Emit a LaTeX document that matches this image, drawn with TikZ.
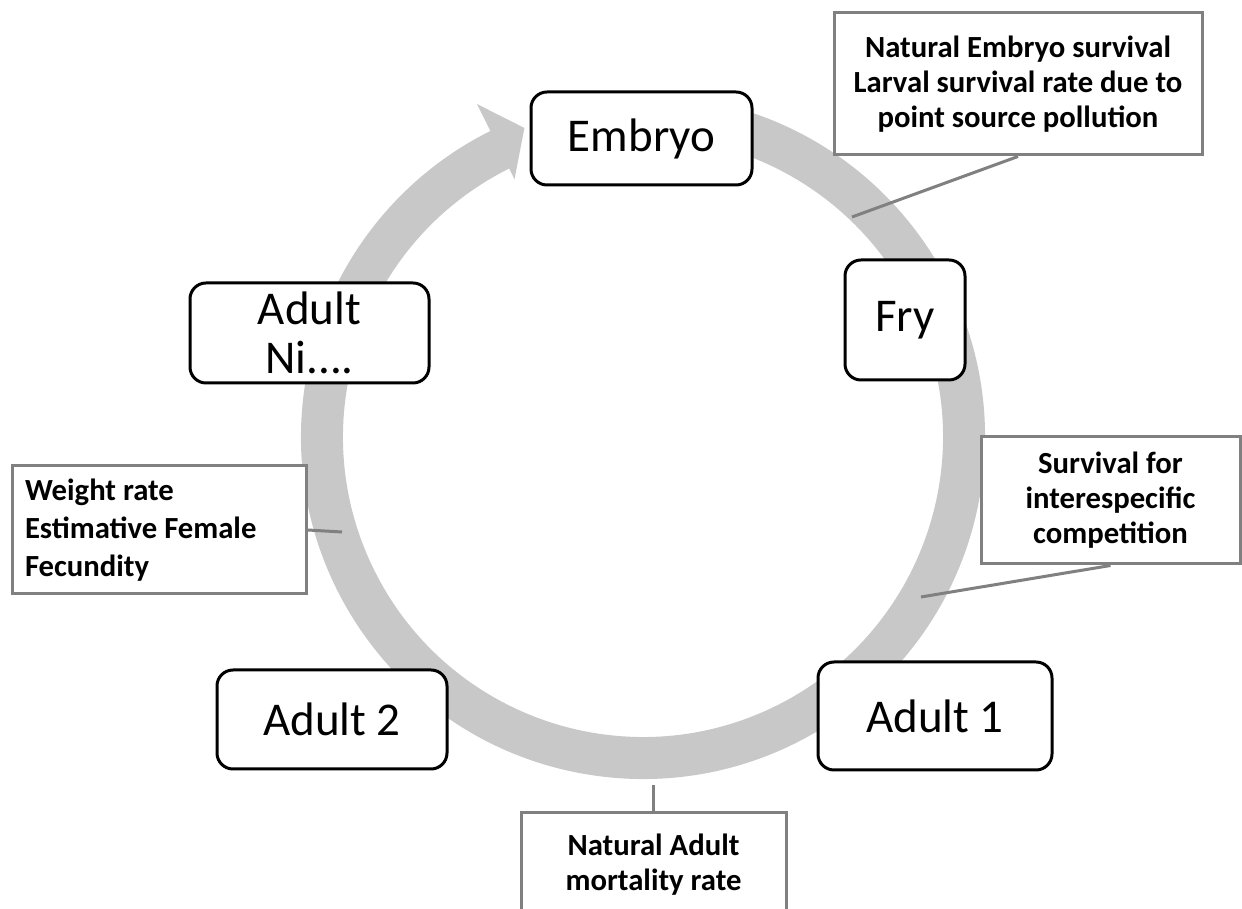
\documentclass[tikz,border=0pt]{standalone}
\usepackage{fontspec}
\setmainfont{Carlito}
\definecolor{ringgray}{RGB}{200,200,200}
\definecolor{notegray}{RGB}{128,128,128}
\tikzset{stage/.style={draw=black, line width=3pt, rounded corners=16pt,
  fill=white, align=center, inner sep=0pt, font=\fontsize{47}{49}\selectfont},
  note/.style={draw=notegray, line width=3pt, fill=white, inner sep=0pt,
  font=\bfseries\fontsize{30.7}{35}\selectfont},
  leader/.style={draw=notegray, line width=3pt}}

\begin{document}
\begin{tikzpicture}[x=1pt,y=1pt]
      \useasboundingbox (0,0) rectangle (1242,909);
      \clip (0,0) rectangle (1242,909);
      \fill [white] (0,0) rectangle (1242,909);

      \begin{scope}[shift={(643,472)}]
        \fill [ringgray] (80:342) arc [start angle=80, end angle=-243.5, radius=342]
          -- (-243.5:372) -- (-249:331) -- (-243.5:288) -- (-243.5:300)
          arc [start angle=-243.5, end angle=80, radius=300] -- cycle;
      \end{scope}

      \node [stage, minimum width=221pt, minimum height=93pt] (embryo) at (641.5,770.5) {Embryo};
      \node [stage, minimum width=120pt, minimum height=120pt] (fry) at (905,589) {Fry};
      \node [stage, minimum width=239pt, minimum height=100pt] (adultni) at (309.5,576) {Adult\\Ni....};
      \node [stage, minimum width=230pt, minimum height=99pt] (adult2) at (332,189.5) {Adult 2};
      \node [stage, minimum width=234pt, minimum height=108pt] (adult1) at (935,193) {Adult 1};

      \node [note, minimum width=368pt, minimum height=142pt, align=center] (embryonote) at (1018,825)
        {Natural Embryo survival\\Larval survival rate due to\\point source pollution};
      \node [note, minimum width=259pt, minimum height=127pt, align=center] (frynote) at (1110.5,408.5)
        {Survival for\\interespecific\\competition};
      \node [note, text width=268pt, minimum height=128pt, inner xsep=13pt, align=left,
        font=\bfseries\fontsize{30.7}{38}\selectfont] (fecundnote) at (159,379)
        {\spaceskip=0pt Weight rate\\Estimative Female\\Fecundity};
      \node [note, minimum width=265pt, inner ysep=21pt, anchor=north, align=center] (mortalnote) at (653.5,98)
        {Natural Adult\\mortality rate};

      \coordinate (embryotip) at (852,692);
      \coordinate (frytip) at (921,312);
      \coordinate (ringleft) at (342,377);
      \coordinate (ringbottom) at (653.5,124);
      \draw [leader] (embryonote.south) -- (embryotip);
      \draw [leader] (frynote.south) -- (frytip);
      \draw [leader] (fecundnote.east) -- (ringleft);
      \draw [leader] (ringbottom) -- (mortalnote.north);
    \end{tikzpicture}
\end{document}
